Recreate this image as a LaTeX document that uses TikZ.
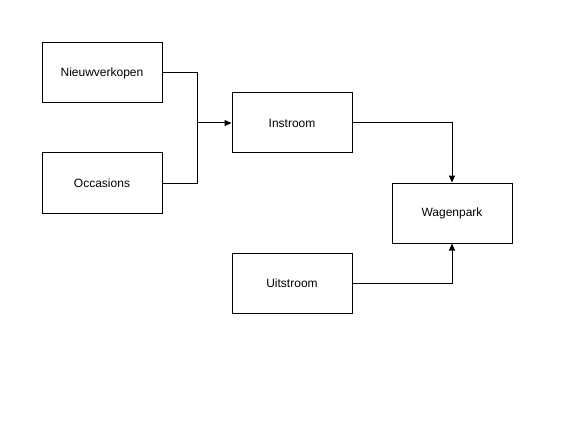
\documentclass[tikz,border=0pt]{standalone}
\usepackage{fontspec}
\setmainfont{Liberation Sans}
\usetikzlibrary{arrows.meta}
\begin{document}
\begin{tikzpicture}[x=1pt,y=-1pt,
  box/.style={draw,line width=1pt,minimum width=120pt,minimum height=60pt,inner sep=0pt,font=\fontsize{12pt}{14pt}\selectfont},
  conn/.style={line width=1pt,-{Triangle[length=7pt,width=6pt]}},
  seg/.style={line width=1pt}]
\useasboundingbox (0,0) rectangle (572,422);
\node[box] (nv) at (102,73) {Nieuwverkopen};
\node[box] (oc) at (102,183) {Occasions};
\node[box] (in) at (292,123) {Instroom};
\node[box] (wp) at (452,213) {Wagenpark};
\node[box] (ui) at (292,283) {Uitstroom};
\coordinate (j) at (197,123);
\draw[seg] (nv.east) -| (j);
\draw[seg] (oc.east) -| (j);
\draw[conn] (j) -- (in.west);
\draw[conn] (in.east) -| (wp.north);
\draw[conn] (ui.east) -| (wp.south);
\end{tikzpicture}
\end{document}
